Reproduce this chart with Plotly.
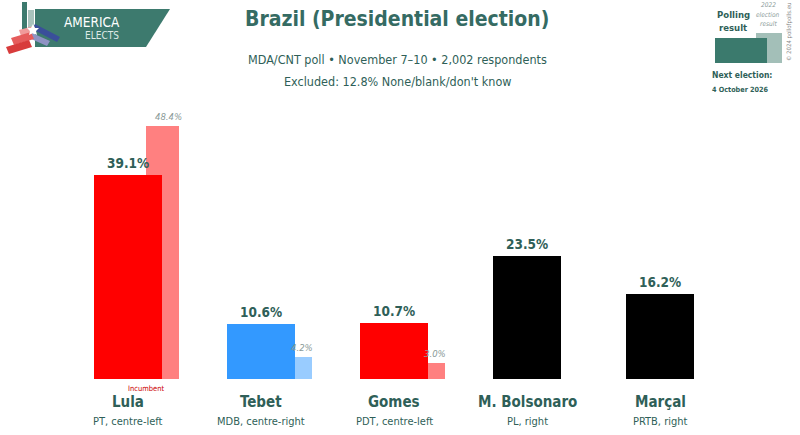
import plotly.graph_objects as go

candidates = ["Lula", "Tebet", "Gomes", "M. Bolsonaro", "Marçal"]
parties = ["PT, centre-left", "MDB, centre-right", "PDT, centre-left", "PL, right", "PRTB, right"]
poll = [39.1, 10.6, 10.7, 23.5, 16.2]
prev_2022 = [48.4, 4.2, 3.0, None, None]
main_colors = ["#ff0000", "#3399ff", "#ff0000", "#000000", "#000000"]
prev_colors = ["#ff8080", "#99ccff", "#ff8080", "#ffffff", "#ffffff"]

TEAL = "#2f5f58"
FONT = "DejaVu Sans Condensed, sans-serif"

xs = list(range(len(candidates)))
px_per_unit = 133.0
x_lo = -128 / px_per_unit
x_hi = x_lo + 800 / px_per_unit
y_scale = 5.22
y_lo = -(435 - 379) / y_scale
y_hi = 379 / y_scale

fig = go.Figure()
px_idx = [i for i, v in enumerate(prev_2022) if v is not None]
fig.add_trace(go.Bar(
    x=[xs[i] for i in px_idx], y=[prev_2022[i] for i in px_idx],
    width=33 / px_per_unit, offset=18 / px_per_unit,
    marker=dict(color=[prev_colors[i] for i in px_idx], line=dict(width=0)),
    hoverinfo="skip", showlegend=False))
fig.add_trace(go.Bar(
    x=xs, y=poll, width=68 / px_per_unit, offset=-34 / px_per_unit,
    marker=dict(color=main_colors, line=dict(width=0)),
    hoverinfo="skip", showlegend=False))

ann = []
for i, c in enumerate(candidates):
    ann.append(dict(x=xs[i], y=poll[i], xref="x", yref="y", text=f"<b>{poll[i]:.1f}%</b>",
                    showarrow=False, xanchor="center", yanchor="bottom", yshift=2,
                    font=dict(family=FONT, size=13.5, color=TEAL)))
    ann.append(dict(x=xs[i], y=-4.4, xref="x", yref="y", text=f"<b>{c}</b>",
                    showarrow=False, xanchor="center", yanchor="middle",
                    font=dict(family=FONT, size=15, color=TEAL)))
    ann.append(dict(x=xs[i], y=-8.2, xref="x", yref="y", text=parties[i],
                    showarrow=False, xanchor="center", yanchor="middle",
                    font=dict(family=FONT, size=11, color=TEAL)))
    if prev_2022[i] is not None:
        ann.append(dict(x=xs[i] + 34.5 / px_per_unit, y=prev_2022[i], xref="x", yref="y",
                        text=f"<i>{prev_2022[i]:.1f}%</i>", showarrow=False,
                        xanchor="center", yanchor="bottom",
                        yshift=2, xshift=6, font=dict(family=FONT, size=9.5, color="#8a9a98")))
ann.append(dict(x=xs[0] + 18 / px_per_unit, y=-1.9, xref="x", yref="y", text="Incumbent",
                showarrow=False, xanchor="center", yanchor="middle",
                font=dict(family=FONT, size=7.5, color="#cc0000")))


def txt(x, y, text, size, color=TEAL, xa="center", angle=0):
    return dict(x=x / 800, y=1 - y / 435, xref="paper", yref="paper", text=text,
                showarrow=False, xanchor=xa, yanchor="middle", textangle=angle,
                font=dict(family=FONT, size=size, color=color))


ann += [
    txt(397, 19, "<b>Brazil (Presidential election)</b>", 21, "#356b63"),
    txt(397, 59, "MDA/CNT poll • November 7–10 • 2,002 respondents", 12.5),
    txt(397, 82, "Excluded: 12.8% None/blank/don't know", 12.5),
    txt(733, 15, "<b>Polling</b>", 9.5),
    txt(733, 27, "<b>result</b>", 9.5),
    txt(768, 5, "<i>2022</i>", 6.5, "#8a9a98"),
    txt(768, 15, "<i>election</i>", 6.5, "#8a9a98"),
    txt(768, 24, "<i>result</i>", 6.5, "#8a9a98"),
    txt(710, 75, "<b>Next election:</b>", 8.5, xa="left"),
    txt(710, 89, "<b>4 October 2026</b>", 7.2, xa="left"),
    txt(789, 32, "© 2024 pollofpolls.eu", 6, "#888888", angle=-90),
    txt(62, 22, "AMERICA", 13.5, "white", xa="left"),
    txt(83, 36, "ELECTS", 10, "#dfeae7", xa="left"),
]


def P(x, y):
    return x / 800, 1 - y / 435


def poly(pts, col):
    path = "M " + " L ".join(f"{a},{b}" for a, b in (P(*p) for p in pts)) + " Z"
    return dict(type="path", xref="paper", yref="paper", path=path,
                fillcolor=col, line=dict(width=0))


def rect(a, b, c, d, col):
    xa, ya = P(a, b)
    xb, yb = P(c, d)
    return dict(type="rect", xref="paper", yref="paper", x0=xa, y0=yb, x1=xb, y1=ya,
                fillcolor=col, line=dict(width=0))


shapes = [
    rect(756, 33, 782, 63, "#a3bfb8"),
    rect(715, 38, 767, 63, "#3b7a6d"),
    poly([(35, 9), (170, 9), (146, 47), (35, 47)], "#3d7a6e"),
    rect(22, 2, 27, 30, "#3d7a6e"),
    rect(28, 10, 34, 30, "#a9c2bc"),
    poly([(35, 24), (60, 37), (57, 42), (32, 29)], "#3a4f9a"),
    poly([(32, 33), (50, 41), (47, 46), (29, 38)], "#8f93c4"),
    poly([(19, 30), (34, 26), (36, 32), (21, 36)], "#f09a9a"),
    poly([(11, 38), (31, 32), (34, 39), (14, 45)], "#e65c5c"),
    poly([(6, 47), (29, 40), (32, 47), (9, 54)], "#d83c3c"),
    poly([(33, 24), (35, 28), (39, 28), (36, 31), (37, 35), (33, 33), (29, 35), (30, 31), (27, 28), (31, 28)], "#ffffff"),
]

fig.update_layout(
    width=800, height=435, margin=dict(l=0, r=0, t=0, b=0),
    paper_bgcolor="white", plot_bgcolor="white",
    barmode="overlay", bargap=0,
    xaxis=dict(range=[x_lo, x_hi], visible=False, fixedrange=True),
    yaxis=dict(range=[y_lo, y_hi], visible=False, fixedrange=True),
    annotations=ann, shapes=shapes, showlegend=False,
)
fig.write_html("out.html")
